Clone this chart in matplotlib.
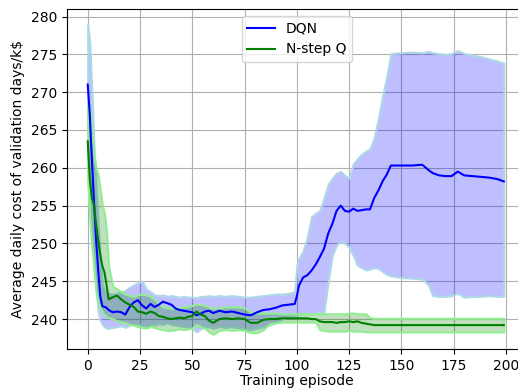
import matplotlib
matplotlib.use("Agg")
import matplotlib.pyplot as plt

# episodes at which the curves were read
episodes = [0, 1, 2, 3, 4, 5, 6, 7, 8, 9, 10, 12, 14, 16, 18, 20, 22, 24, 26, 28,
            30, 32, 34, 36, 38, 40, 42, 44, 46, 48, 50, 52, 54, 56, 58, 60, 63, 66, 69, 72,
            75, 78, 81, 84, 87, 90, 93, 96, 99, 100, 101, 103, 105, 107, 109, 111, 113, 115, 117, 119,
            121, 123, 125, 127, 129, 131, 133, 135, 137, 139, 141, 143, 145, 150, 155, 160, 163, 165, 168, 171,
            174, 177, 180, 184, 188, 192, 196, 199]

dqn_mean = [271.0, 267.0, 261.0, 255.5, 250.5, 246.5, 243.0, 241.7, 241.6, 241.5, 241.2, 240.9, 241.0, 240.9, 240.6, 241.6, 242.2, 242.5, 241.8, 241.4,
            242.0, 241.6, 241.9, 242.3, 242.1, 241.9, 241.4, 241.2, 241.1, 241.0, 240.9, 240.5, 240.7, 241.0, 241.1, 240.8, 241.1, 240.9, 241.0, 240.8,
            240.6, 240.5, 240.9, 241.2, 241.3, 241.5, 241.8, 241.9, 242.0, 243.0, 244.4, 245.5, 245.8, 246.4, 247.2, 248.2, 249.3, 251.3, 252.6, 254.3,
            255.0, 254.3, 254.2, 254.6, 254.3, 254.4, 254.5, 254.5, 256.0, 257.0, 258.2, 259.1, 260.3, 260.3, 260.3, 260.4, 259.7, 259.3, 259.0, 258.9,
            258.9, 259.5, 259.0, 258.9, 258.8, 258.7, 258.5, 258.2]
dqn_upper = [279.0, 276.5, 270.0, 263.0, 257.5, 252.5, 248.0, 244.5, 243.8, 243.5, 243.4, 243.3, 243.4, 243.6, 243.8, 244.2, 244.5, 244.8, 245.0, 244.0,
             243.6, 243.2, 243.1, 243.2, 243.0, 243.1, 243.0, 242.9, 243.0, 242.9, 242.9, 242.8, 243.0, 243.0, 243.1, 243.0, 243.1, 243.0, 243.1, 243.0,
             242.9, 242.9, 243.0, 243.1, 243.2, 243.3, 243.3, 243.4, 243.6, 247.0, 248.0, 249.0, 250.8, 253.5, 254.0, 254.3, 256.0, 257.8, 258.6, 259.3,
             259.5, 259.0, 258.6, 260.5, 261.2, 261.8, 262.2, 262.5, 264.0, 266.5, 269.5, 272.0, 275.1, 275.2, 275.3, 275.2, 275.4, 275.2, 275.1, 275.0,
             275.1, 275.5, 275.1, 274.9, 274.7, 274.4, 274.1, 273.8]
dqn_lower = [263.0, 258.0, 252.0, 247.5, 244.0, 241.0, 239.8, 239.3, 239.0, 238.8, 238.8, 238.9, 239.0, 239.1, 238.9, 239.2, 239.3, 239.4, 239.2, 239.0,
             239.3, 239.2, 239.4, 239.3, 239.5, 239.3, 239.2, 239.1, 239.0, 238.9, 238.8, 238.3, 238.7, 238.9, 239.0, 238.8, 239.0, 238.9, 239.0, 238.8,
             238.7, 238.6, 238.8, 239.0, 239.2, 239.5, 240.0, 240.3, 240.5, 240.6, 240.7, 240.7, 240.8, 240.7, 240.8, 240.8, 240.9, 245.0, 248.5, 249.8,
             250.3, 250.0, 249.5, 248.4, 247.1, 246.8, 246.5, 246.6, 246.8, 246.7, 246.3, 245.9, 245.7, 245.5, 245.4, 245.3, 244.5, 243.1, 243.0, 243.0,
             243.1, 243.4, 242.9, 243.0, 243.0, 243.1, 243.0, 243.0]

nstep_mean = [263.5, 258.5, 256.0, 255.0, 252.5, 250.5, 248.5, 247.0, 246.2, 244.5, 242.6, 242.9, 243.1, 242.6, 242.2, 241.9, 241.6, 241.0, 240.9, 240.7,
              241.0, 240.8, 240.4, 240.3, 240.1, 240.0, 240.1, 240.2, 240.1, 240.3, 240.4, 241.0, 240.6, 240.4, 239.8, 239.5, 240.0, 240.1, 240.0, 240.1,
              240.0, 239.5, 239.5, 239.9, 240.0, 240.0, 240.1, 240.1, 240.1, 240.1, 240.1, 240.1, 240.1, 240.0, 240.0, 239.7, 239.6, 239.6, 239.6, 239.5,
              239.6, 239.6, 239.7, 239.6, 239.7, 239.5, 239.4, 239.3, 239.2, 239.2, 239.2, 239.2, 239.2, 239.2, 239.2, 239.2, 239.2, 239.2, 239.2, 239.2,
              239.2, 239.2, 239.2, 239.2, 239.2, 239.2, 239.2, 239.2]
nstep_upper = [268.6, 267.7, 264.5, 261.5, 260.0, 259.0, 257.0, 255.0, 254.0, 251.5, 247.0, 244.3, 244.0, 243.6, 243.3, 243.1, 243.0, 243.2, 243.3, 243.2,
               243.0, 242.6, 242.0, 241.6, 241.5, 241.4, 241.4, 241.5, 241.6, 241.7, 241.8, 242.0, 241.9, 241.8, 241.6, 241.4, 241.5, 241.6, 241.6, 241.6,
               241.5, 240.9, 240.8, 240.8, 240.8, 240.8, 240.7, 240.7, 240.7, 240.7, 240.7, 240.7, 240.7, 240.7, 240.7, 240.7, 240.7, 240.7, 240.7, 240.7,
               240.7, 240.7, 240.8, 240.8, 240.7, 240.7, 240.7, 240.2, 240.1, 240.1, 240.1, 240.1, 240.1, 240.1, 240.1, 240.1, 240.1, 240.1, 240.1, 240.1,
               240.1, 240.1, 240.1, 240.1, 240.1, 240.1, 240.1, 240.1]
nstep_lower = [258.3, 253.2, 249.5, 246.5, 243.5, 242.2, 241.5, 240.9, 240.6, 240.3, 240.2, 240.0, 239.8, 239.6, 239.5, 239.3, 239.2, 239.0, 238.9, 238.8,
               239.0, 238.9, 238.7, 238.6, 238.5, 238.5, 238.6, 238.7, 238.6, 238.7, 238.8, 239.3, 239.0, 238.8, 238.3, 238.0, 238.5, 238.6, 238.5, 238.6,
               238.5, 238.2, 238.2, 238.6, 239.4, 239.5, 239.6, 239.6, 239.6, 239.6, 239.6, 239.6, 239.6, 239.6, 239.6, 238.6, 238.5, 238.4, 238.4, 238.4,
               238.4, 238.4, 238.5, 238.4, 238.4, 238.4, 238.3, 238.3, 238.3, 238.3, 238.3, 238.3, 238.3, 238.3, 238.3, 238.3, 238.3, 238.3, 238.3, 238.3,
               238.3, 238.3, 238.3, 238.3, 238.3, 238.3, 238.3, 238.3]

fig = plt.figure(figsize=(5.18, 3.89), dpi=100)
ax = fig.add_axes([0.129, 0.102, 0.888, 0.875])

ax.fill_between(episodes, dqn_lower, dqn_upper, facecolor=(0, 0, 1, 0.25),
                edgecolor='lightblue', linewidth=1.5)
ax.fill_between(episodes, nstep_lower, nstep_upper, facecolor=(0, 0.5, 0, 0.25),
                edgecolor='lightgreen', linewidth=1.5)
ax.plot(episodes, dqn_mean, color='blue', linewidth=1.5, label='DQN')
ax.plot(episodes, nstep_mean, color='green', linewidth=1.5, label='N-step Q')

ax.set_xlim(-10, 210)
ax.set_ylim(236, 281)
ax.set_xticks([0, 25, 50, 75, 100, 125, 150, 175, 200])
ax.set_yticks([240, 245, 250, 255, 260, 265, 270, 275, 280])
ax.grid(True, color='#b0b0b0', linewidth=0.8)
ax.set_axisbelow(True)
ax.set_xlabel('Training episode', labelpad=1)
ax.set_ylabel('Average daily cost of validation days/k$')
ax.legend(loc='upper center')

fig.savefig('out.png', dpi=100)
